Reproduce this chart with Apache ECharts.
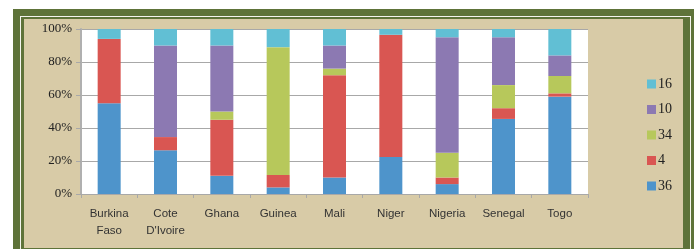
<!DOCTYPE html>
<html>
<head>
<meta charset="utf-8">
<script src="https://cdn.jsdelivr.net/npm/echarts@6/dist/echarts.min.js"></script>
<style>
html,body{margin:0;padding:0;background:#fff;width:696px;height:249px;overflow:hidden;position:relative;}
#outer{position:absolute;left:13px;top:9px;width:681px;height:245px;background:#5e7339;}
#line{position:absolute;left:20px;top:16px;width:669px;height:240px;border:1px solid #f4f4ee;}
#chart{position:absolute;left:24px;top:19px;width:659px;height:229px;background:#d8cba7;}
</style>
</head>
<body>
<div id="outer"></div>
<div id="line"></div>
<div id="chart"></div>
<script>
var categories = ['Burkina\nFaso', 'Cote\nD\'Ivoire', 'Ghana', 'Guinea', 'Mali', 'Niger', 'Nigeria', 'Senegal', 'Togo'];
var s36 = [55, 26.5, 11, 4, 10, 22.5, 6, 45.5, 59];
var s4  = [39, 8, 34, 7.5, 62, 74, 4, 6.5, 2];
var s34 = [0, 0, 5, 77.5, 4, 0, 15, 14, 10.5];
var s10 = [0, 55.5, 40, 0, 14, 0, 70, 29, 12.5];
var s16 = [6, 10, 10, 11, 10, 3.5, 5, 5, 16];
var seriesNames = ['36', '4', '34', '10', '16'];
var yTicks = [0, 20, 40, 60, 80, 100];

var colors = ['#4e94cb', '#d95652', '#b7c85b', '#8c79b2', '#61bfd4'];
var dataSets = [s36, s4, s34, s10, s16];

var chart = echarts.init(document.getElementById('chart'));
var series = seriesNames.map(function (n, i) {
  return {
    name: n, type: 'bar', stack: 'total', barWidth: 23,
    itemStyle: {color: colors[i]},
    data: dataSets[i]
  };
});
chart.setOption({
  animation: false,
  grid: {left: 57, right: 95, top: 10, bottom: 54, show: true, backgroundColor: '#ffffff', borderWidth: 0},
  legend: {
    data: ['16', '10', '34', '4', '36'],
    orient: 'vertical', left: 618, top: 53,
    itemWidth: 9, itemHeight: 9, itemGap: 11.5, icon: 'rect',
    textStyle: {fontFamily: 'Liberation Serif', fontSize: 14, color: '#222', padding: [0, 0, 0, -3]}
  },
  xAxis: {
    type: 'category', data: categories,
    axisLine: {lineStyle: {color: '#a8a8a8', width: 1}},
    axisTick: {show: true, length: 4, lineStyle: {color: '#a8a8a8'}},
    axisLabel: {fontFamily: 'Liberation Sans', fontSize: 11.5, color: '#333', margin: 11, lineHeight: 17, interval: 0}
  },
  yAxis: {
    type: 'value', min: 0, max: 100, interval: 20,
    axisLine: {show: true, lineStyle: {color: '#b0b0b0', width: 2}},
    axisTick: {show: true, length: 5, lineStyle: {color: '#a8a8a8'}},
    splitLine: {lineStyle: {color: '#a8a8a8', width: 1}},
    axisLabel: {formatter: '{value}%', fontFamily: 'Liberation Serif', fontSize: 13, color: '#222', margin: 9}
  },
  series: series
});
</script>
</body>
</html>
